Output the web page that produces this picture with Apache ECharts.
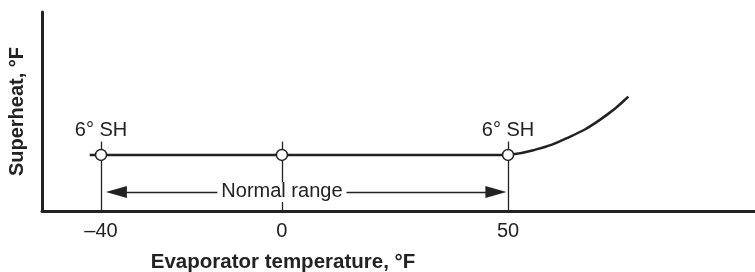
<!DOCTYPE html>
<html>
<head>
<meta charset="utf-8">
<script src="https://cdn.jsdelivr.net/npm/echarts@6/dist/echarts.min.js"></script>
<style>
  html, body { margin: 0; padding: 0; background: #fff; }
  #chart { width: 755px; height: 272px; }
</style>
</head>
<body>
<div id="chart"></div>
<script>
// evaporator temperature (°F) ticks
const tempTicks = [-40, 0, 50];
const tickLabels = ['\u201340', '0', '50'];

// flat 6° superheat stretch
const flatTemps = [-42.5, 50];
const flatSuperheat = [6, 6];

// rising superheat above 50 °F
const curveTemps = [50, 55.6, 63, 70.3, 76.6];
const curveSuperheat = [6, 6.5, 7.8, 9.75, 12.25];

// open circle markers + "6° SH" callouts
const markerTemps = [-40, 0, 50];
const markerSuperheat = [6, 6, 6];
const shLabelTemps = [-40, 50];
const shLabel = '6\u00b0 SH';

// guide lines and normal range arrow
const guideTop = 7.43;
const rangeStart = -36.6;
const rangeEnd = 47.3;
const rangeLevel = 2.04;
const rangeLabelAt = 0;
const rangeLabel = 'Normal range';

const ink = '#222';
const font = '"Liberation Sans", Arial, Helvetica, sans-serif';

const chart = echarts.init(document.getElementById('chart'));

chart.setOption({
  animation: false,
  grid: { left: 42, right: 0, top: 12, bottom: 61, containLabel: false, outerBoundsMode: 'none' },
  xAxis: {
    type: 'value',
    min: -53.05,
    max: 104.6,
    splitLine: { show: false },
    axisTick: { show: false },
    axisLine: { onZero: false, lineStyle: { color: ink, width: 3 } },
    axisLabel: {
      customValues: tempTicks,
      formatter: (v) => tickLabels[tempTicks.indexOf(v)],
      color: ink,
      fontSize: 20,
      fontFamily: font,
      margin: 10
    }
  },
  yAxis: {
    type: 'value',
    min: 0,
    max: 21.3,
    splitLine: { show: false },
    axisTick: { show: false },
    axisLabel: { show: false },
    axisLine: { show: true, onZero: false, lineStyle: { color: ink, width: 3 } },
    name: 'Superheat, \u00b0F',
    nameLocation: 'middle',
    nameGap: 15,
    nameTextStyle: { color: ink, fontSize: 20, fontWeight: 'bold', fontFamily: font }
  },
  graphic: [{
    type: 'text',
    x: 283,
    y: 262,
    style: {
      text: 'Evaporator temperature, \u00b0F',
      font: 'bold 20.5px ' + font,
      fill: ink,
      textAlign: 'center',
      textVerticalAlign: 'middle'
    }
  }],
  series: [
    {
      type: 'line',
      data: flatTemps.map((t, i) => [t, flatSuperheat[i]]),
      symbol: 'none',
      lineStyle: { color: ink, width: 2.5 },
      z: 3,
      markLine: {
        silent: true,
        symbol: 'none',
        label: { show: false },
        lineStyle: { color: ink, width: 1.3, type: 'solid' },
        data: tempTicks.map(t => [{ coord: [t, 0] }, { coord: [t, guideTop] }])
      }
    },
    {
      type: 'line',
      data: curveTemps.map((t, i) => [t, curveSuperheat[i]]),
      symbol: 'none',
      smooth: true,
      lineStyle: { color: ink, width: 2.5 },
      z: 3
    },
    {
      type: 'scatter',
      data: [[rangeLabelAt, rangeLevel]],
      symbolSize: 0,
      itemStyle: { opacity: 1 },
      label: {
        show: true,
        position: 'inside',
        formatter: rangeLabel,
        color: ink,
        opacity: 1,
        fontSize: 20,
        fontFamily: font,
        backgroundColor: '#fff',
        padding: [0, 4]
      },
      z: 5,
      markLine: {
        silent: true,
        symbol: ['triangle', 'triangle'],
        symbolSize: [12, 21],
        label: { show: false },
        lineStyle: { color: ink, width: 1.3, type: 'solid' },
        itemStyle: { color: ink },
        data: [[{ coord: [rangeStart, rangeLevel] }, { coord: [rangeEnd, rangeLevel] }]]
      }
    },
    {
      type: 'scatter',
      data: markerTemps.map((t, i) => ({
        value: [t, markerSuperheat[i]],
        label: { show: shLabelTemps.includes(t) }
      })),
      symbol: 'circle',
      symbolSize: 11,
      itemStyle: { color: '#fff', borderColor: ink, borderWidth: 1.5, opacity: 1 },
      label: {
        position: 'top',
        distance: 8,
        formatter: shLabel,
        color: ink,
        fontSize: 20,
        fontFamily: font
      },
      z: 6
    }
  ]
});
</script>
</body>
</html>
